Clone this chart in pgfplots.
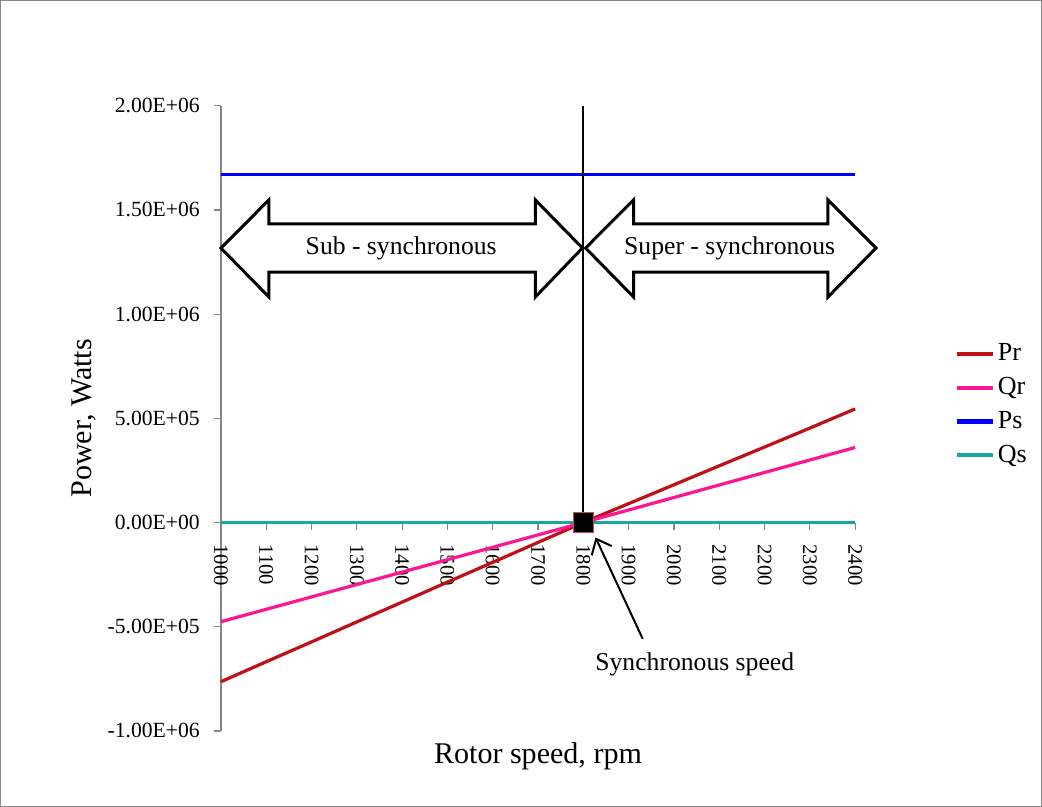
\documentclass[border=0pt]{standalone}
\usepackage{fontspec}
\setmainfont{Liberation Serif}
\usepackage{pgfplots}
\pgfplotsset{compat=1.18}
\usetikzlibrary{arrows.meta}

\definecolor{prred}{RGB}{192,16,22}
\definecolor{qrpink}{RGB}{255,20,147}
\definecolor{psblue}{RGB}{0,0,255}
\definecolor{qsteal}{RGB}{24,166,160}
\definecolor{axgray}{RGB}{134,134,134}
\definecolor{mkred}{RGB}{192,80,77}

\begin{document}
\begin{tikzpicture}
\begin{axis}[
  at={(0,0)}, anchor=south west,
  scale only axis, width=316.5pt, height=312pt,
  xmin=1000, xmax=2400, ymin=-1000000, ymax=2000000,
  axis x line=middle, axis y line=left,
  hide obscured x ticks=false,
  axis line style={axgray, line width=0.6pt, -},
  tick style={axgray, line width=0.6pt},
  tick align=outside, major tick length=3.5pt,
  xtick={1000,1100,...,2400},
  ytick={-1000000,-500000,0,500000,1000000,1500000,2000000},
  yticklabels={-1.00E+06,-5.00E+05,0.00E+00,5.00E+05,1.00E+06,1.50E+06,2.00E+06},
  scaled y ticks=false,
  /pgf/number format/1000 sep={},
  /pgf/number format/assume math mode=true,
  xticklabel style={rotate=-90, anchor=west, font=\fontsize{10.3}{12}\selectfont},
  xticklabel shift=4pt,
  yticklabel style={font=\fontsize{10.8}{12}\selectfont},
  yticklabel shift=3.5pt,
  xlabel={Rotor speed, rpm},
  ylabel={Power, Watts},
  xlabel style={at={(axis description cs:0.5,-0.04)}, anchor=center, font=\fontsize{15}{18}\selectfont},
  ylabel style={at={(axis description cs:-0.2165,0.5)}, anchor=center, font=\fontsize{15}{18}\selectfont},
  legend style={at={(axis description cs:1.1564,0.522)}, anchor=west, draw=none,
    inner sep=0pt, font=\fontsize{13}{15}\selectfont, row sep=2.9pt,
    nodes={inner xsep=1.5pt}},
  legend cell align=left,
  legend image code/.code={\draw[#1, line width=2pt] (0pt,0pt) -- (18pt,0pt);},
  clip=false,
  every axis plot/.append style={line width=1.6pt},
]

\addplot[prred, no marks] coordinates {
  (1000,-764000) (1100,-668000) (1200,-573000) (1300,-477000) (1400,-382000)
  (1500,-286000) (1600,-191000) (1700,-95500) (1800,0) (1900,90500)
  (2000,181000) (2100,272000) (2200,362000) (2300,453000) (2400,545000)
};
\addlegendentry{Pr}

\addplot[qrpink, no marks] coordinates {
  (1000,-476000) (1100,-416500) (1200,-357000) (1300,-297500) (1400,-238000)
  (1500,-178500) (1600,-119000) (1700,-59500) (1800,0) (1900,60000)
  (2000,120000) (2100,180000) (2200,240000) (2300,300000) (2400,360000)
};
\addlegendentry{Qr}

\addplot[psblue, no marks] coordinates {
  (1000,1668000) (1100,1668000) (1200,1668000) (1300,1668000) (1400,1668000)
  (1500,1668000) (1600,1668000) (1700,1668000) (1800,1668000) (1900,1668000)
  (2000,1668000) (2100,1668000) (2200,1668000) (2300,1668000) (2400,1668000)
};
\addlegendentry{Ps}

\addplot[qsteal, no marks] coordinates {
  (1000,0) (1100,0) (1200,0) (1300,0) (1400,0) (1500,0) (1600,0) (1700,0)
  (1800,0) (1900,0) (2000,0) (2100,0) (2200,0) (2300,0) (2400,0)
};
\addlegendentry{Qs}

% synchronous speed marker line
\addplot[black, line width=1.1pt, no marks, forget plot] coordinates {(1800,0) (1800,2000000)};
\addplot[only marks, mark=square*, mark size=5pt,
  mark options={fill=black, draw=mkred, line width=0.8pt}, forget plot] coordinates {(1800,0)};

% region arrows
\draw[black, line width=1.5pt, fill=white]
  (axis cs:1000,1317000) -- (axis cs:1106,1548000) -- (axis cs:1106,1433000)
  -- (axis cs:1694,1433000) -- (axis cs:1694,1548000) -- (axis cs:1798,1317000)
  -- (axis cs:1694,1082000) -- (axis cs:1694,1202000) -- (axis cs:1106,1202000)
  -- (axis cs:1106,1082000) -- cycle;
\draw[black, line width=1.5pt, fill=white]
  (axis cs:1805,1317000) -- (axis cs:1911,1548000) -- (axis cs:1911,1433000)
  -- (axis cs:2340,1433000) -- (axis cs:2340,1548000) -- (axis cs:2446,1317000)
  -- (axis cs:2340,1082000) -- (axis cs:2340,1202000) -- (axis cs:1911,1202000)
  -- (axis cs:1911,1082000) -- cycle;
\node[font=\fontsize{12.8}{15}\selectfont] at (axis cs:1398,1317000) {Sub - synchronous};
\node[font=\fontsize{12.8}{15}\selectfont] at (axis cs:2123,1317000) {Super - synchronous};

% synchronous speed annotation
\draw[black, line width=1pt, -{Straight Barb[length=6.5pt,width=11pt]}]
  (axis cs:1931,-558000) -- (axis cs:1827,-72000);
\node[font=\fontsize{12.8}{15}\selectfont] at (axis cs:2046,-683000) {Synchronous speed};

\end{axis}
\draw[axgray, line width=0.5pt] (-110pt,-37.5pt) rectangle (409.5pt,364.5pt);
\end{tikzpicture}
\end{document}
